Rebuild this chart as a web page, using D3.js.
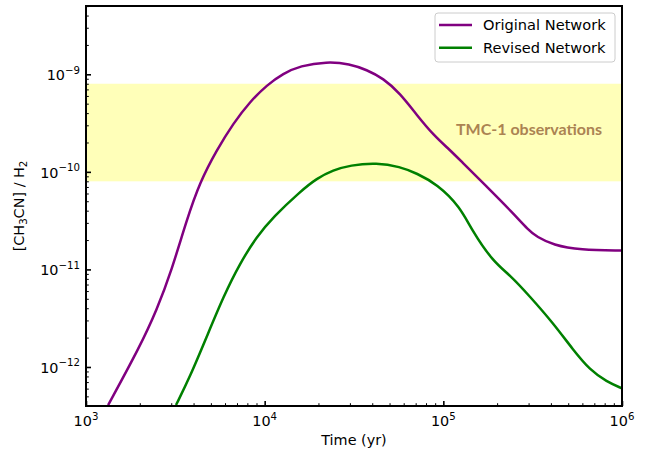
<!DOCTYPE html>
<html><head><meta charset="utf-8">
<script src="https://cdn.jsdelivr.net/npm/d3@7"></script>
<style>body{margin:0;background:#fff}svg{display:block}text{font-family:"DejaVu Sans",sans-serif}</style>
</head><body>
<svg id="c" width="650" height="454"></svg>
<script>
// Data
const origTime = [1330,2000,2490,3020,3660,4350,5390,6680,8280,10300,12700,15800,22200,30000,37200,46100,57200,71000,87900,109000,124000,175000,246000,299000,333000,412000,582000,1000000];
const origValue = [4.07e-13,1.61e-12,3.84e-12,9.86e-12,3.21e-11,7.92e-11,1.67e-10,3.15e-10,5.24e-10,7.76e-10,1.02e-9,1.22e-9,1.35e-9,1.28e-9,1.11e-9,9.10e-10,6.38e-10,3.83e-10,2.39e-10,1.67e-10,1.32e-10,7.05e-11,3.76e-11,2.54e-11,2.16e-11,1.78e-11,1.58e-11,1.56e-11];
const revTime = [3190,3820,4740,5870,7280,9020,11200,15800,19600,24200,30000,42400,57200,71000,92000,124000,144000,190000,236000,306000,412000,534000,662000,821000,1000000];
const revValue = [4.07e-13,7.94e-13,2.04e-12,5.25e-12,1.16e-11,2.16e-11,3.47e-11,6.27e-11,8.59e-11,1.04e-10,1.17e-10,1.24e-10,1.13e-10,9.66e-11,7.5e-11,4.40e-11,2.54e-11,1.20e-11,8.77e-12,5.25e-12,2.81e-12,1.49e-12,9.31e-13,7.06e-13,6.04e-13];
const seriesNames = ["Original Network","Revised Network"];
const seriesColors = ["#800080","#008000"];
const bandRange = [8e-11, 8e-10];
const bandLabel = "TMC-1 observations";
const xMajor = [1e3,1e4,1e5,1e6];
const xMajorExp = ["3","4","5","6"];
const yMajor = [1e-12,1e-11,1e-10,1e-9];
const yMajorExp = ["−12","−11","−10","−9"];

const L=86, R=622, T=6, B=406;
const svg = d3.select("#c");
const x = d3.scaleLog().domain([1e3,1e6]).range([L,R]);
const y = d3.scaleLog().domain([Math.pow(10,-12.4),Math.pow(10,-8.3)]).range([B,T]);

svg.append("clipPath").attr("id","clip").append("rect").attr("x",L).attr("y",T).attr("width",R-L).attr("height",B-T);
const plot = svg.append("g").attr("clip-path","url(#clip)");

// band
plot.append("rect").attr("x",L).attr("width",R-L)
  .attr("y",y(bandRange[1])).attr("height",y(bandRange[0])-y(bandRange[1]))
  .attr("fill","rgb(255,255,185)");
svg.append("text").attr("x",529).attr("y",135).attr("text-anchor","middle")
  .style("font-family","Lato, 'Open Sans', sans-serif")
  .attr("font-weight","bold").attr("font-size",16).attr("fill","#ab8352").text(bandLabel);

const line = d3.line().x(d=>x(d[0])).y(d=>y(d[1])).curve(d3.curveBasis);
[[origTime,origValue],[revTime,revValue]].forEach((s,i)=>{
  plot.append("path").datum(s[0].map((t,j)=>[t,s[1][j]]))
    .attr("d",line).attr("fill","none").attr("stroke",seriesColors[i]).attr("stroke-width",2.5);
});

// minor ticks
function minors(lo,hi){const a=[];for(let e=lo;e<hi;e++)for(let m=2;m<=9;m++)a.push(m*Math.pow(10,e));return a;}
const xMinor = minors(3,6).filter(v=>v>=1e3&&v<=1e6);
const yMinor = minors(-13,-8).filter(v=>v>=y.domain()[0]&&v<=y.domain()[1]);

const ax = svg.append("g").attr("transform",`translate(0,${B})`)
  .call(d3.axisBottom(x).tickValues(xMinor).tickSizeInner(-2.8).tickSizeOuter(0).tickFormat(""));
const ax2 = svg.append("g").attr("transform",`translate(0,${B})`)
  .call(d3.axisBottom(x).tickValues(xMajor).tickSizeInner(-5).tickSizeOuter(0).tickFormat(""));
const ay = svg.append("g").attr("transform",`translate(${L},0)`)
  .call(d3.axisLeft(y).tickValues(yMinor).tickSizeInner(-2.8).tickSizeOuter(0).tickFormat(""));
const ay2 = svg.append("g").attr("transform",`translate(${L},0)`)
  .call(d3.axisLeft(y).tickValues(yMajor).tickSizeInner(-5).tickSizeOuter(0).tickFormat(""));
[ax,ay].forEach(g=>{g.select(".domain").remove();g.selectAll(".tick line").attr("stroke","#000").attr("stroke-width",1);});
[ax2,ay2].forEach(g=>{g.select(".domain").remove();g.selectAll(".tick line").attr("stroke","#000").attr("stroke-width",1.6);});

// labels
xMajor.forEach((v,i)=>{
  const t = svg.append("text").attr("x",x(v)).attr("y",426).attr("text-anchor","middle").attr("font-size",14.4).attr("fill","#000");
  t.append("tspan").text("10");
  t.append("tspan").attr("dy",-6.5).attr("font-size",10.2).text(xMajorExp[i]);
});
yMajor.forEach((v,i)=>{
  const t = svg.append("text").attr("x",80).attr("y",y(v)+6).attr("text-anchor","end").attr("font-size",14.4).attr("fill","#000");
  t.append("tspan").text("10");
  t.append("tspan").attr("dy",-6.5).attr("font-size",10.2).text(yMajorExp[i]);
});

// frame
svg.append("rect").attr("x",L).attr("y",T).attr("width",R-L).attr("height",B-T)
  .attr("fill","none").attr("stroke","#000").attr("stroke-width",2);

svg.append("text").attr("x",(L+R)/2).attr("y",445).attr("text-anchor","middle").attr("font-size",14.4).text("Time (yr)");
const yl = svg.append("text").attr("transform",`translate(24,${(T+B)/2}) rotate(-90)`).attr("text-anchor","middle").attr("font-size",14.4);
yl.append("tspan").text("[CH");
yl.append("tspan").attr("dy",3).attr("font-size",10.2).text("3");
yl.append("tspan").attr("dy",-3).text("CN] / H");
yl.append("tspan").attr("dy",3).attr("font-size",10.2).text("2");

// legend
const lg = svg.append("g");
lg.append("rect").attr("x",435).attr("y",13).attr("width",180).attr("height",49).attr("rx",3)
  .attr("fill","#fff").attr("fill-opacity",0.8).attr("stroke","#ccc").attr("stroke-width",1);
seriesNames.forEach((n,i)=>{
  const yy = 25 + i*22.7;
  lg.append("line").attr("x1",439).attr("x2",472).attr("y1",yy).attr("y2",yy).attr("stroke",seriesColors[i]).attr("stroke-width",2.5);
  lg.append("text").attr("x",483).attr("y",yy+5).attr("font-size",14.6).text(n);
});
</script>
</body></html>
